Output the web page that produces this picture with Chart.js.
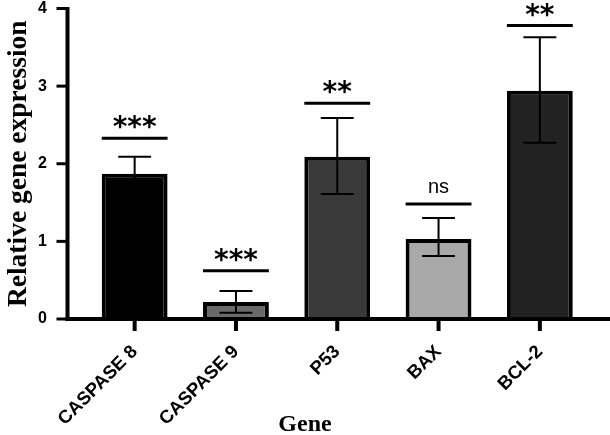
<!DOCTYPE html>
<html>
<head>
<meta charset="utf-8">
<script src="https://cdn.jsdelivr.net/npm/chart.js@4.4.1/dist/chart.umd.min.js"></script>
<style>
  html, body { margin: 0; padding: 0; background: #fff; }
  #wrap { width: 610px; height: 435px; position: relative; }
</style>
</head>
<body>
<div id="wrap"><canvas id="geneChart"></canvas></div>
<script>
// data
const genes = ['CASPASE 8', 'CASPASE 9', 'P53', 'BAX', 'BCL-2'];
const means = [1.87, 0.22, 2.09, 1.03, 2.94];
const errUp = [0.22, 0.14, 0.50, 0.27, 0.69];
const errDown = [0.22, 0.14, 0.48, 0.22, 0.67];
const barColors = ['#000000', '#6a6a6a', '#393939', '#a9a9a9', '#222222'];
const sigLabels = ['***', '***', '**', 'ns', '**'];
const sigLevels = [2.33, 0.62, 2.78, 1.48, 3.78];
const yTicks = [0, 1, 2, 3, 4];

Chart.defaults.font.family = '"Liberation Sans", Arial, sans-serif';
Chart.defaults.color = '#000';

// axes, error bars and significance marks
const marksPlugin = {
    id: 'marks',
    afterDatasetsDraw(chart) {
        const ctx = chart.ctx;
        const area = chart.chartArea;
        const y = chart.scales.y;
        const bars = chart.getDatasetMeta(0).data;
        ctx.save();
        ctx.strokeStyle = '#000';
        ctx.fillStyle = '#000';
        ctx.lineCap = 'butt';

        bars.forEach((bar, i) => {
            const top = y.getPixelForValue(means[i] + errUp[i]);
            const bot = y.getPixelForValue(means[i] - errDown[i]);
            const cap = bar.width / 4;
            ctx.lineWidth = 2;
            ctx.beginPath();
            ctx.moveTo(bar.x, top); ctx.lineTo(bar.x, bot);
            ctx.moveTo(bar.x - cap, top); ctx.lineTo(bar.x + cap, top);
            ctx.moveTo(bar.x - cap, bot); ctx.lineTo(bar.x + cap, bot);
            ctx.stroke();

            const ly = y.getPixelForValue(sigLevels[i]);
            ctx.lineWidth = 3;
            ctx.beginPath();
            ctx.moveTo(bar.x - bar.width / 2, ly); ctx.lineTo(bar.x + bar.width / 2, ly);
            ctx.stroke();

            ctx.textAlign = 'center';
            ctx.textBaseline = 'alphabetic';
            if (sigLabels[i] === 'ns') {
                ctx.font = '20px "Liberation Sans", Arial, sans-serif';
                ctx.fillText(sigLabels[i], bar.x, ly - 11);
            } else {
                ctx.font = 'bold 28px "DejaVu Sans", sans-serif';
                const m = ctx.measureText(sigLabels[i]);
                const mid = (m.actualBoundingBoxAscent - m.actualBoundingBoxDescent) / 2;
                ctx.fillText(sigLabels[i], bar.x, ly - 16 + mid);
            }
        });

        // y axis line + ticks
        const ax = area.left - 16.5;
        ctx.lineWidth = 4;
        ctx.beginPath();
        ctx.moveTo(ax, y.getPixelForValue(4) - 1.5);
        ctx.lineTo(ax, area.bottom + 2);
        ctx.stroke();
        ctx.lineWidth = 3;
        yTicks.forEach(t => {
            const ty = y.getPixelForValue(t);
            ctx.beginPath();
            ctx.moveTo(ax - 11, ty); ctx.lineTo(ax, ty);
            ctx.stroke();
        });

        // x axis line + ticks
        ctx.lineWidth = 4;
        ctx.beginPath();
        ctx.moveTo(ax - 2, area.bottom);
        ctx.lineTo(chart.width, area.bottom);
        ctx.stroke();
        bars.forEach(bar => {
            ctx.beginPath();
            ctx.moveTo(bar.x, area.bottom);
            ctx.lineTo(bar.x, area.bottom + 12);
            ctx.stroke();
        });

        // x axis title
        ctx.font = 'bold 24px "Liberation Serif", "Times New Roman", serif';
        ctx.textAlign = 'center';
        ctx.fillText('Gene', 305, 431);
        ctx.restore();
    }
};

new Chart(document.getElementById('geneChart').getContext('2d'), {
    type: 'bar',
    data: {
        labels: genes,
        datasets: [{
            data: means,
            backgroundColor: barColors,
            borderColor: '#000',
            borderWidth: 4,
            borderSkipped: 'bottom',
            barPercentage: 0.65,
            categoryPercentage: 1
        }]
    },
    options: {
        responsive: true,
        maintainAspectRatio: false,
        animation: false,
        layout: { padding: { top: 8.5, right: 19.5, left: 0, bottom: 0 } },
        plugins: { legend: { display: false }, tooltip: { enabled: false } },
        scales: {
            x: {
                grid: { display: false },
                border: { display: false },
                ticks: {
                    minRotation: 45, maxRotation: 45, padding: 14,
                    font: { size: 18.5, weight: 'bold' }, color: '#000'
                },
                afterFit(scale) { scale.height = 116; }
            },
            y: {
                min: 0, max: 4,
                grid: { display: false },
                border: { display: false },
                ticks: {
                    stepSize: 1, padding: 29,
                    font: { size: 16, weight: 'bold' }, color: '#000'
                },
                title: {
                    display: true,
                    text: 'Relative gene expression',
                    font: { family: '"Liberation Serif", "Times New Roman", serif', size: 27.5, weight: 'bold' },
                    color: '#000',
                    padding: { top: 2, bottom: 0 }
                },
                afterFit(scale) {
                    scale.width = 84;
                    scale.paddingTop = 0;
                    scale.paddingBottom = 0;
                }
            }
        }
    },
    plugins: [marksPlugin]
});
</script>
</body>
</html>
